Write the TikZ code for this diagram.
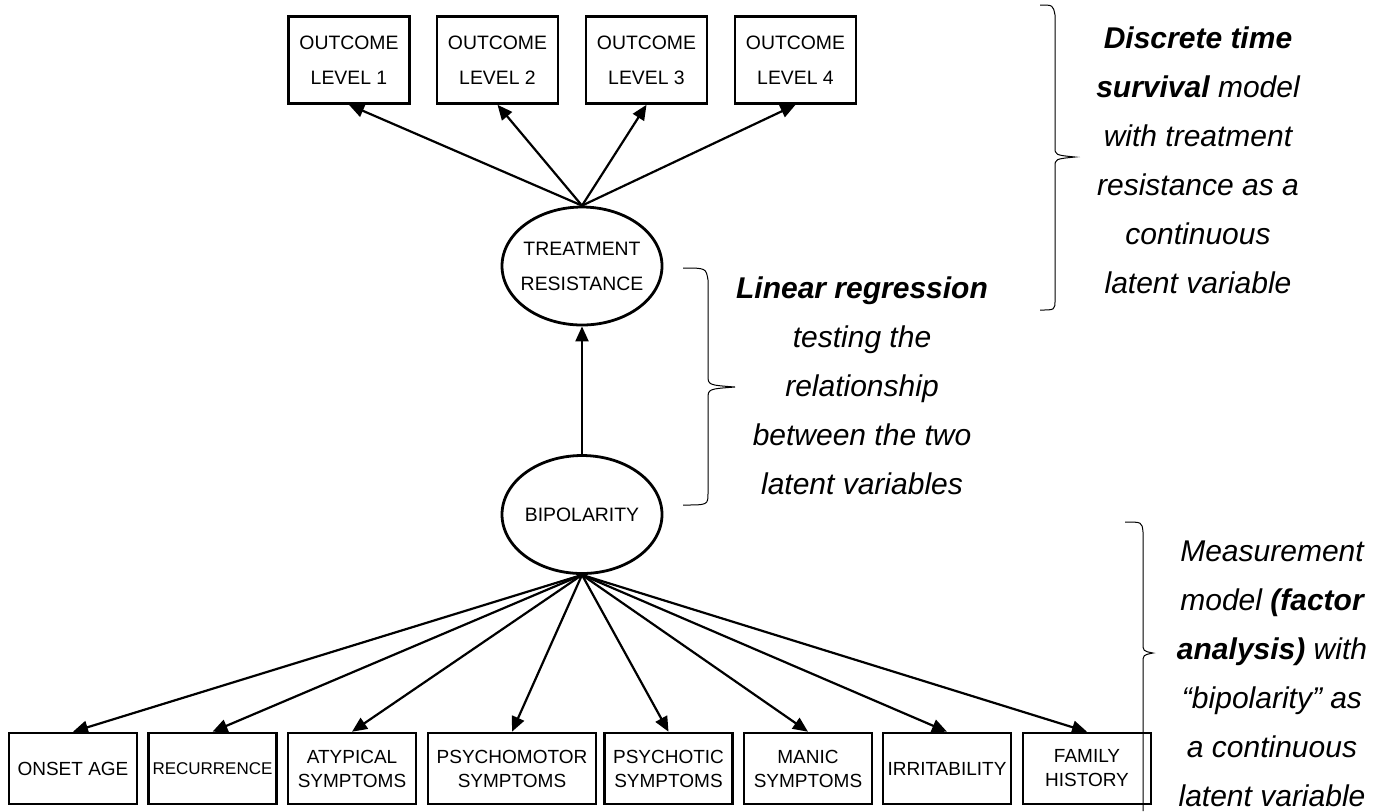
\documentclass[tikz,border=0pt]{standalone}
\usepackage{fontspec}
\setmainfont{Liberation Sans}
\usetikzlibrary{shapes.geometric,arrows.meta}

\begin{document}
\begin{tikzpicture}[x=0.5pt, y=-0.5pt,
  obs/.style={draw, line width=1.3pt, align=center, inner sep=0pt, minimum width=60.5pt, minimum height=43.5pt, font=\fontsize{9.7}{17.5}\selectfont},
  ind/.style={draw, line width=1.3pt, align=center, inner sep=0pt, minimum width=64pt, minimum height=35.5pt, font=\fontsize{9.5}{12}\selectfont},
  lat/.style={draw, ellipse, line width=1.4pt, inner sep=0pt, minimum width=80pt, minimum height=59pt},
  arr/.style={-{Triangle[length=7.5pt,width=6.5pt]}, line width=1.1pt},
  brc/.style={line width=0.5pt},
  note/.style={align=center, font=\fontsize{15}{24.5}\selectfont\itshape}]
  \useasboundingbox (0,0) rectangle (1384,811);
  % outcome levels
  \node[obs] (out1) at (349,60) {OUTCOME\\LEVEL 1};
  \node[obs] (out2) at (497.5,60) {OUTCOME\\LEVEL 2};
  \node[obs] (out3) at (646.5,60) {OUTCOME\\LEVEL 3};
  \node[obs] (out4) at (795.5,60) {OUTCOME\\LEVEL 4};
  % latent variables
  \node[lat, label={[align=center, font=\fontsize{9.7}{17.5}\selectfont]center:TREATMENT\\RESISTANCE}] (tr) at (582,266) {};
  \node[lat, label={[font=\fontsize{9.7}{12}\selectfont]center:BIPOLARITY}] (bip) at (582,514.5) {};
  % indicators
  \node[ind] (onset) at (73,768.5) {ONSET AGE};
  \node[ind, font=\fontsize{8.5}{12}\selectfont] (recur) at (212.5,768.5) {RECURRENCE};
  \node[ind] (atyp) at (352,768.5) {ATYPICAL\\SYMPTOMS};
  \node[ind, minimum width=84pt] (psymo) at (512,768.5) {PSYCHOMOTOR\\SYMPTOMS};
  \node[ind] (psyco) at (668.5,768.5) {PSYCHOTIC\\SYMPTOMS};
  \node[ind] (manic) at (808,768.5) {MANIC\\SYMPTOMS};
  \node[ind] (irrit) at (947,768.5) {IRRITABILITY};
  \node[ind] (famil) at (1087,768.5) {FAMILY\\HISTORY};
  % paths
  \foreach \o in {out1,out2,out3,out4} \draw[arr] (tr.north) -- (\o.south);
  \draw[arr] (bip.north) -- (tr.south);
  \foreach \i in {onset,recur,atyp,psymo,psyco,manic,irrit,famil} \draw[arr] (bip.south) -- (\i.north);
  % notes and braces
  \node[note] (surv) at (1198,160) {\textbf{Discrete time}\\\textbf{survival} model\\with treatment\\resistance as a\\continuous\\latent variable};
  \node[note] (linreg) at (862,386) {\textbf{Linear regression}\\testing the\\relationship\\between the two\\latent variables};
  \node[note] (meas) at (1272,674) {Measurement\\model \textbf{(factor}\\\textbf{analysis)} with\\“bipolarity” as\\a continuous\\latent variable};
  \draw[brc] (1040,5) .. controls (1053,5) .. (1055,15) -- (1055,147) .. controls (1055,155) .. (1075,157) .. controls (1055,159) .. (1055,167) -- (1055,300) .. controls (1055,310) .. (1040,310);
  \draw[brc] (683,268) .. controls (706,268) .. (708,280) -- (708,375) .. controls (708,385) .. (735,387) .. controls (708,389) .. (708,399) -- (708,493) .. controls (708,505) .. (683,505);
  \draw[brc] (1125,522) .. controls (1142,522) .. (1143,532) -- (1143,643) .. controls (1143,651) .. (1153,653) .. controls (1143,655) .. (1143,663) -- (1143,811);
\end{tikzpicture}
\end{document}
